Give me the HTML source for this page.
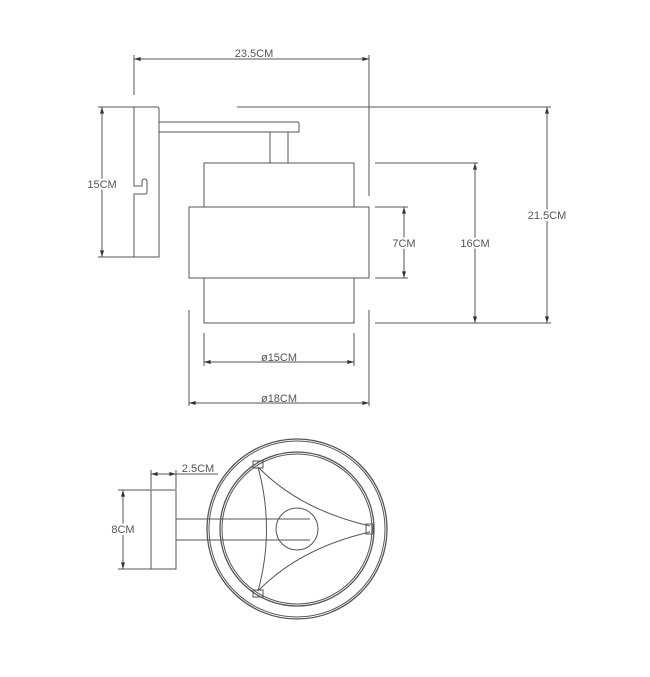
<!DOCTYPE html>
<html><head><meta charset="utf-8"><style>
html,body{margin:0;padding:0;background:#fff;}
svg{display:block}
text{font-family:"Liberation Sans",sans-serif;font-size:11px;fill:#555;}
</style></head><body>
<svg width="650" height="677" viewBox="0 0 650 677" xmlns="http://www.w3.org/2000/svg">
<defs>
<marker id="a" viewBox="0 0 10 6" refX="10" refY="3" markerWidth="8" markerHeight="4" orient="auto-start-reverse"><path d="M0,0L10,3L0,6z" fill="#333"/></marker>
</defs>
<g stroke="#555" stroke-width="1" fill="none">
<line x1="134" y1="55" x2="134" y2="95"/>
<line x1="369" y1="55" x2="369" y2="196"/>
<line x1="134" y1="59" x2="369" y2="59" marker-start="url(#a)" marker-end="url(#a)"/>
<path d="M134,107 H157 Q159,107 159,109 V257 H134 V194 H145 Q147,194 147,192 V182 Q147,179 144.5,179 Q142,179 142,182 V186 H134 Z"/>
<path d="M159,122 H297 Q299,122 299,124 V132 H159"/>
<rect x="270" y="132" width="18" height="31"/>
<rect x="204" y="163" width="150" height="44"/>
<rect x="189" y="207" width="180" height="71"/>
<rect x="204" y="278" width="150" height="45"/>
<line x1="98" y1="107" x2="134" y2="107"/>
<line x1="98" y1="257" x2="134" y2="257"/>
<line x1="102" y1="107" x2="102" y2="257" marker-start="url(#a)" marker-end="url(#a)"/>
<line x1="237" y1="107" x2="551" y2="107"/>
<line x1="375" y1="163" x2="478" y2="163"/>
<line x1="375" y1="207" x2="408" y2="207"/>
<line x1="375" y1="278" x2="408" y2="278"/>
<line x1="375" y1="323" x2="551" y2="323"/>
<line x1="547" y1="107" x2="547" y2="323" marker-start="url(#a)" marker-end="url(#a)"/>
<line x1="475" y1="163" x2="475" y2="323" marker-start="url(#a)" marker-end="url(#a)"/>
<line x1="404" y1="207" x2="404" y2="278" marker-start="url(#a)" marker-end="url(#a)"/>
<line x1="204" y1="333" x2="204" y2="366"/>
<line x1="354" y1="333" x2="354" y2="366"/>
<line x1="189" y1="310" x2="189" y2="406"/>
<line x1="369" y1="310" x2="369" y2="406"/>
<line x1="204" y1="362" x2="354" y2="362" marker-start="url(#a)" marker-end="url(#a)"/>
<line x1="189" y1="403" x2="369" y2="403" marker-start="url(#a)" marker-end="url(#a)"/>
<line x1="151" y1="470" x2="151" y2="489"/>
<line x1="176" y1="470" x2="176" y2="489"/>
<line x1="151" y1="474" x2="176" y2="474" marker-start="url(#a)" marker-end="url(#a)"/>
<line x1="176" y1="474" x2="218" y2="474"/>
<line x1="118" y1="490" x2="151" y2="490"/>
<line x1="118" y1="569" x2="151" y2="569"/>
<line x1="123" y1="490" x2="123" y2="569" marker-start="url(#a)" marker-end="url(#a)"/>
<rect x="151" y="490" width="25" height="79"/>
<circle cx="297" cy="529" r="90" stroke-width="1.3"/>
<circle cx="297" cy="529" r="88"/>
<circle cx="297" cy="529" r="77" stroke-width="1.3"/>
<circle cx="297" cy="529" r="75"/>
<circle cx="297" cy="529" r="21"/>
<path d="M176,519 H310 M176,540 H310"/>
<path d="M258,467 Q300,510 370,526 M258,591 Q300,548 370,532 M258,467 Q275,529 258,591"/>
<rect x="366" y="524" width="7" height="10"/>
<rect x="253" y="461" width="10" height="7"/>
<rect x="253" y="590" width="10" height="7"/>
</g>
<g>
<rect x="232" y="47" width="44" height="10" fill="#fff"/>
<text x="254" y="57" text-anchor="middle">23.5CM</text>
<text x="102" y="188" text-anchor="middle" style="paint-order:stroke" stroke="#fff" stroke-width="4">15CM</text>
<text x="547" y="219" text-anchor="middle" style="paint-order:stroke" stroke="#fff" stroke-width="4">21.5CM</text>
<text x="475" y="247" text-anchor="middle" style="paint-order:stroke" stroke="#fff" stroke-width="4">16CM</text>
<text x="404" y="247" text-anchor="middle" style="paint-order:stroke" stroke="#fff" stroke-width="4">7CM</text>
<text x="279" y="361" text-anchor="middle">ø15CM</text>
<text x="279" y="402" text-anchor="middle">ø18CM</text>
<text x="198" y="472" text-anchor="middle">2.5CM</text>
<text x="123" y="533" text-anchor="middle" style="paint-order:stroke" stroke="#fff" stroke-width="4">8CM</text>
</g>
</svg>
</body></html>
